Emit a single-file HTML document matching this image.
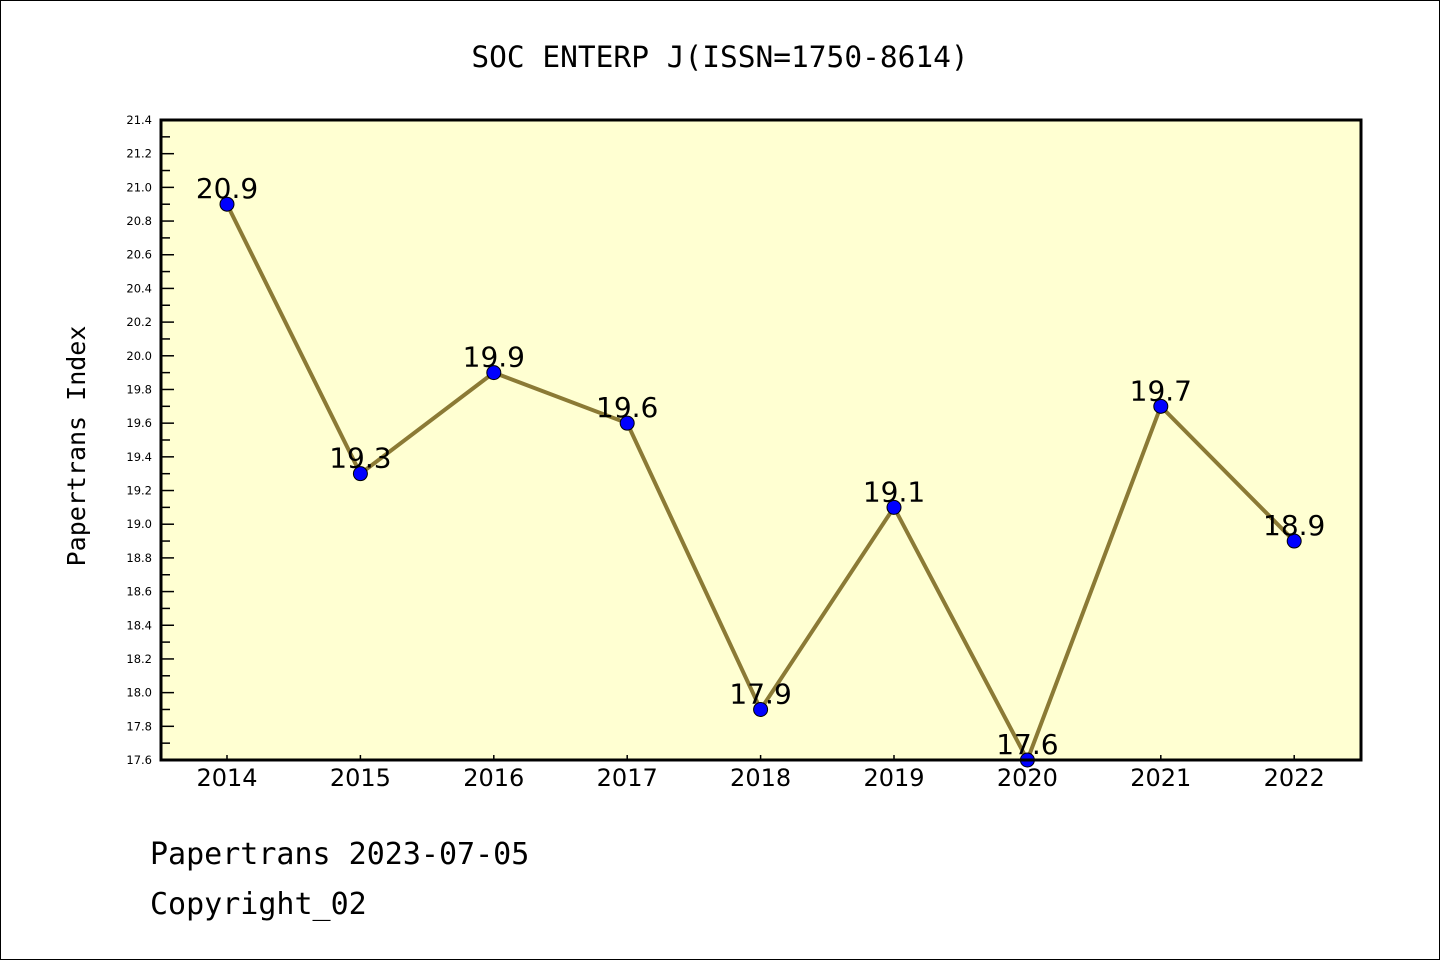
<!DOCTYPE html>
<html><head><meta charset="utf-8"><style>
body{margin:0;background:#fff;}
svg{display:block;}
</style></head><body>
<svg width="1440" height="960" viewBox="0 0 1440 960" xmlns="http://www.w3.org/2000/svg">
<rect x="0.5" y="0.5" width="1439" height="959" fill="#fff" stroke="#000" stroke-width="1"/>
<text x="720" y="67" text-anchor="middle" font-family="'DejaVu Sans Mono','Liberation Mono',monospace" font-size="29.5">SOC ENTERP J(ISSN=1750-8614)</text>
<rect x="161" y="120" width="1200" height="640" fill="#ffffd2"/>
<g id="yaxis"></g>
<g id="xaxis"></g>
<g id="series"></g>
<rect x="161" y="120" width="1200" height="640" fill="none" stroke="#000" stroke-width="3"/>
<text transform="translate(85,446) rotate(-90)" text-anchor="middle" font-family="'DejaVu Sans Mono','Liberation Mono',monospace" font-size="25">Papertrans Index</text>
<text x="150" y="864" font-family="'DejaVu Sans Mono','Liberation Mono',monospace" font-size="30">Papertrans 2023-07-05</text>
<text x="150" y="914" font-family="'DejaVu Sans Mono','Liberation Mono',monospace" font-size="30">Copyright_02</text>
</svg>
<script>
const years=["2014","2015","2016","2017","2018","2019","2020","2021","2022"];
const values=[20.9,19.3,19.9,19.6,17.9,19.1,17.6,19.7,18.9];
const labels=["20.9","19.3","19.9","19.6","17.9","19.1","17.6","19.7","18.9"];
const yTicks=[17.6,17.8,18.0,18.2,18.4,18.6,18.8,19.0,19.2,19.4,19.6,19.8,20.0,20.2,20.4,20.6,20.8,21.0,21.2,21.4];
const NS="http://www.w3.org/2000/svg";
const yMin=17.6,yMax=21.4,plotTop=120,plotBot=760,plotLeft=161;
function yS(v){return plotBot-(v-yMin)/(yMax-yMin)*(plotBot-plotTop);}
function xS(i){return 227+i*133.4;}
function mk(t,a,p){const e=document.createElementNS(NS,t);for(const k in a)e.setAttribute(k,a[k]);p.appendChild(e);return e;}
const ya=document.getElementById('yaxis');
yTicks.forEach((v,i)=>{
 const y=yS(v);
 const t=mk('line',{x1:plotLeft,x2:plotLeft+13,y1:y,y2:y,stroke:'#000','stroke-width':1.5},ya);
 
 
 const lb=mk('text',{x:152,y:y+4,'text-anchor':'end','font-family':"'DejaVu Sans','Liberation Sans',sans-serif",'font-size':11.5},ya);
 lb.textContent=v.toFixed(1);
 
 
 if(i<yTicks.length-1){
  const ym=yS(v+0.1);
  const m=mk('line',{x1:plotLeft,x2:plotLeft+9,y1:ym,y2:ym,stroke:'#000','stroke-width':1.5},ya);
  
  
 }
});
const xa=document.getElementById('xaxis');
years.forEach((yr,i)=>{
 const x=xS(i);
 const t=mk('line',{x1:x,x2:x,y1:plotBot,y2:plotBot-5,stroke:'#000','stroke-width':1.5},xa);
 
 
 const lb=mk('text',{x:x,y:786,'text-anchor':'middle','font-family':"'DejaVu Sans','Liberation Sans',sans-serif",'font-size':24},xa);
 lb.textContent=yr;
 
 
});
const s=document.getElementById('series');
const pl=mk('polyline',{points:values.map((v,i)=>xS(i)+','+yS(v)).join(' '),fill:'none',stroke:'#8b7a35','stroke-width':4},s);


values.forEach((v,i)=>{
 const c=mk('circle',{cx:xS(i),cy:yS(v),r:7,fill:'#0000ff',stroke:'#000','stroke-width':1},s);
 
 
 const lb=mk('text',{x:xS(i),y:yS(v)-6,'text-anchor':'middle','font-family':"'DejaVu Sans','Liberation Sans',sans-serif",'font-size':28},s);
 lb.textContent=labels[i];
 
 
});
</script>
</body></html>
